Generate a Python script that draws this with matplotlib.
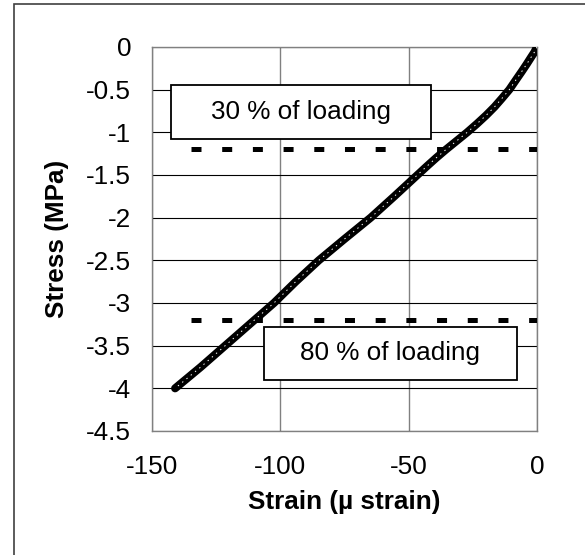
import matplotlib
matplotlib.use("Agg")
import matplotlib.pyplot as plt
from matplotlib.patches import Rectangle

plt.rcParams['font.family'] = ['Liberation Sans', 'DejaVu Sans']
plt.rcParams['lines.scale_dashes'] = False
plt.rcParams['axes.unicode_minus'] = False

# кривая напряжение-деформация
strain = [0, -1, -2.3, -4, -6, -8.3, -10.8, -13.6, -16.5, -19.8, -23.4, -27.2,
          -31.3, -35.4, -39.3, -43, -46.6, -55.6, -64.8, -75, -85, -94, -102.5,
          -112, -121.5, -131, -141]
stress = [0, -0.06, -0.12, -0.2, -0.29, -0.39, -0.5, -0.6, -0.7, -0.8, -0.9, -1.0,
          -1.1, -1.2, -1.3, -1.4, -1.5, -1.75, -2.0, -2.25, -2.5, -2.75, -3.0,
          -3.25, -3.5, -3.75, -4.0]

# уровни нагружения
load_levels = [-1.2, -3.2]
load_x = [-135, 0]
box_labels = ['30 % of loading', '80 % of loading']
box_x = [(-142.6, -41.3), (-106.4, -7.8)]
box_y = [(-1.078, -0.445), (-3.90, -3.28)]

xticks = [-150, -100, -50, 0]
yticks = [0, -0.5, -1, -1.5, -2, -2.5, -3, -3.5, -4, -4.5]

fig = plt.figure(figsize=(5.85, 5.55), dpi=100)
ax = fig.add_axes([152/585, 1 - 431/555, 385/585, 384/555])

# рамка вокруг всего рисунка
fig.patches.append(Rectangle((14/585, -0.1), 1.2, 1 - 4/555 + 0.1, transform=fig.transFigure,
                             fill=False, edgecolor='#404040', linewidth=1.2))

ax.set_xlim(-150, 0)
ax.set_ylim(-4.5, 0)
ax.set_xticks(xticks)
ax.set_xticklabels([('%g' % v) for v in xticks])
ax.set_yticks(yticks)
ax.set_yticklabels([('%g' % v) for v in yticks])
ax.tick_params(length=0, labelsize=18.8)
ax.tick_params(axis='x', pad=17)
ax.tick_params(axis='y', pad=15)

ax.grid(axis='y', color='black', linewidth=0.8)
ax.grid(axis='x', color='#808080', linewidth=1.0)
ax.set_axisbelow(True)
for s in ax.spines.values():
    s.set_color('#808080')
    s.set_linewidth(1.0)

for lvl in load_levels:
    ax.plot(load_x, [lvl, lvl], color='black', linewidth=3.6, dashes=(7.2, 14.9),
            solid_capstyle='butt', dash_capstyle='butt', zorder=3)

for lab, bx, by in zip(box_labels, box_x, box_y):
    ax.add_patch(Rectangle((bx[0], by[0]), bx[1] - bx[0], by[1] - by[0],
                           facecolor='white', edgecolor='black', linewidth=1.3, zorder=4))
    ax.text((bx[0] + bx[1]) / 2, (by[0] + by[1]) / 2, lab, ha='center', va='center',
            fontsize=18.8, zorder=5)

ax.plot(strain, stress, color='black', linewidth=5.8, solid_capstyle='round',
        solid_joinstyle='round', zorder=6)
ax.plot(strain, stress, color='white', linewidth=0.7, dashes=(1, 3), zorder=7)

ax.set_xlabel('Strain (µ strain)', fontsize=18.8, fontweight='bold', labelpad=8)
ax.set_ylabel('Stress (MPa)', fontsize=18.8, fontweight='bold', labelpad=12)

fig.savefig('out.png', dpi=100)
